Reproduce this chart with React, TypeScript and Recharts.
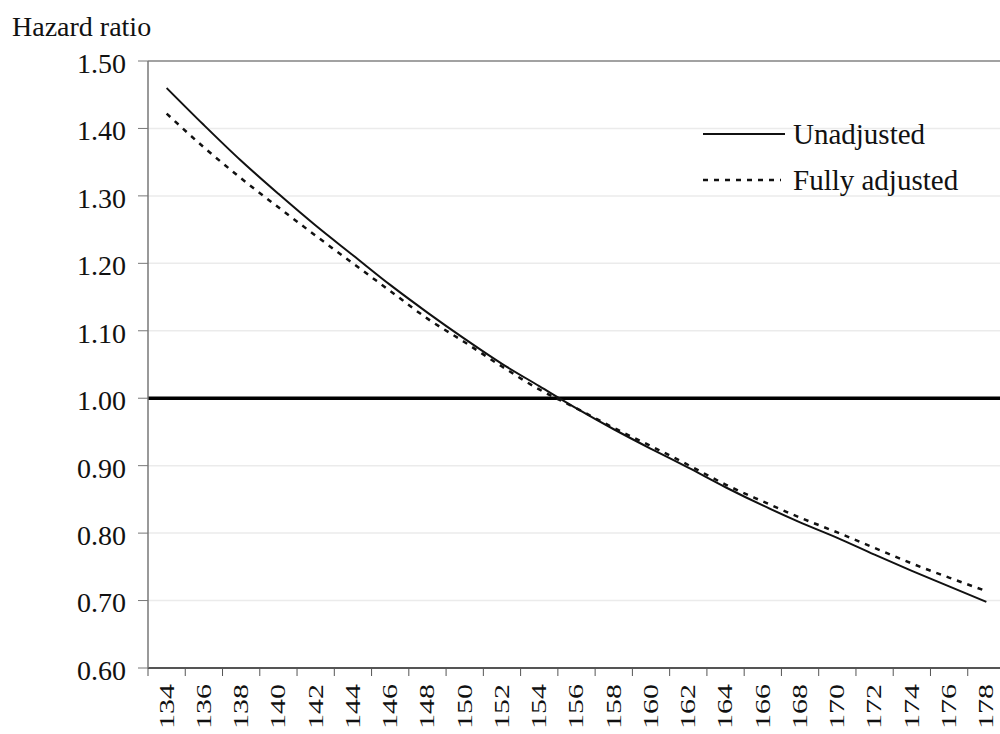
import React from 'react';
import { LineChart, Line, XAxis, YAxis, CartesianGrid, ReferenceLine, Legend } from 'recharts';

const categories = [134, 136, 138, 140, 142, 144, 146, 148, 150, 152, 154, 156, 158, 160, 162, 164, 166, 168, 170, 172, 174, 176, 178];
const unadjusted = [1.460, 1.405, 1.352, 1.303, 1.256, 1.212, 1.168, 1.127, 1.088, 1.051, 1.018, 0.985, 0.954, 0.925, 0.897, 0.868, 0.841, 0.816, 0.793, 0.768, 0.744, 0.721, 0.698];
const fullyAdjusted = [1.422, 1.372, 1.326, 1.283, 1.241, 1.200, 1.159, 1.118, 1.083, 1.047, 1.013, 0.985, 0.956, 0.929, 0.901, 0.872, 0.847, 0.823, 0.801, 0.778, 0.755, 0.734, 0.714];
const yTicks = [0.6, 0.7, 0.8, 0.9, 1.0, 1.1, 1.2, 1.3, 1.4, 1.5];
const seriesNames = ['Unadjusted', 'Fully adjusted'];
const yTitle = 'Hazard ratio';

const data = categories.map((c, i) => ({ x: c, u: unadjusted[i], f: fullyAdjusted[i] }));
const xTicks: number[] = [];
categories.forEach((c) => { xTicks.push(c - 1); xTicks.push(c); });
xTicks.push(categories[categories.length - 1] + 1);
const labelSet = new Set(categories);

const FONT = 'Liberation Serif';
const TXT = '#111';

const XTick = (props: any) => {
  const { x, y, payload } = props;
  const v = payload.value;
  if (!labelSet.has(v)) {
    return <line x1={x} y1={y} x2={x} y2={y + 8} stroke="#555" strokeWidth={1} />;
  }
  return (
    <g transform={`translate(${x},${y + 16}) rotate(-90)`}>
      <text x={0} y={0} transform="scale(1,0.7)" textAnchor="end" dominantBaseline="central" fontFamily={FONT} fontSize={30} fill={TXT}>
        {v}
      </text>
    </g>
  );
};

const LegendContent = (props: any) => {
  const items = [...(props.payload || [])].sort(
    (a: any, b: any) => seriesNames.indexOf(a.value) - seriesNames.indexOf(b.value)
  );
  return (
    <svg width={300} height={90} style={{ display: 'block' }}>
      {items.map((it: any, i: number) => {
        const cy = 19 + i * 46;
        const dashed = seriesNames.indexOf(it.value) === 1;
        return (
          <g key={i}>
            <line x1={8} y1={cy} x2={dashed ? 86 : 90} y2={cy} stroke="#111" strokeWidth={dashed ? 2.5 : 2} strokeDasharray={dashed ? '5 6' : undefined} />
            <text x={98} y={cy + 10} fontFamily={FONT} fontSize={29} fill={TXT}>{it.value}</text>
          </g>
        );
      })}
    </svg>
  );
};

export default function App() {
  return (
    <div style={{ position: 'absolute', left: 0, top: 0, width: 1000, height: 734, overflow: 'hidden', background: '#fff' }}>
      <LineChart width={1010} height={734} data={data} margin={{ top: 61, right: 5, left: 0, bottom: 0 }}>
        <CartesianGrid vertical={false} stroke="#ebebeb" strokeWidth={1.5} />
        <XAxis
          dataKey="x"
          type="number"
          domain={[133, 179]}
          ticks={xTicks}
          interval={0}
          tickSize={0}
          tickMargin={0}
          tickLine={false}
          tick={<XTick />}
          axisLine={{ stroke: '#222', strokeWidth: 1.5 }}
          height={66}
          allowDataOverflow
        />
        <YAxis
          type="number"
          domain={[0.6, 1.5]}
          ticks={yTicks}
          interval={0}
          width={148}
          tickSize={10}
          tickMargin={12}
          tickFormatter={(v: number) => v.toFixed(2)}
          tick={{ fontFamily: FONT, fontSize: 28, fill: TXT, dy: 2 }}
          tickLine={{ stroke: '#777' }}
          axisLine={{ stroke: '#777', strokeWidth: 1.5 }}
          allowDataOverflow
        />
        <ReferenceLine y={1.5} stroke="#888" strokeWidth={1.5} />
        <ReferenceLine y={1.0} stroke="#000" strokeWidth={3.5} />
        <Line dataKey="u" name={seriesNames[0]} type="monotone" stroke="#111" strokeWidth={2} dot={false} isAnimationActive={false} />
        <Line dataKey="f" name={seriesNames[1]} type="monotone" stroke="#111" strokeWidth={2.5} strokeDasharray="5 6" dot={false} isAnimationActive={false} />
        <Legend layout="vertical" align="center" verticalAlign="middle" content={<LegendContent />} wrapperStyle={{ position: 'absolute', left: 695, top: 115, width: 300, height: 90 }} />
      </LineChart>
      <svg style={{ position: 'absolute', left: 0, top: 0 }} width={300} height={50}>
        <text x={12} y={36} fontFamily={FONT} fontSize={28} fill={TXT}>{yTitle}</text>
      </svg>
    </div>
  );
}
